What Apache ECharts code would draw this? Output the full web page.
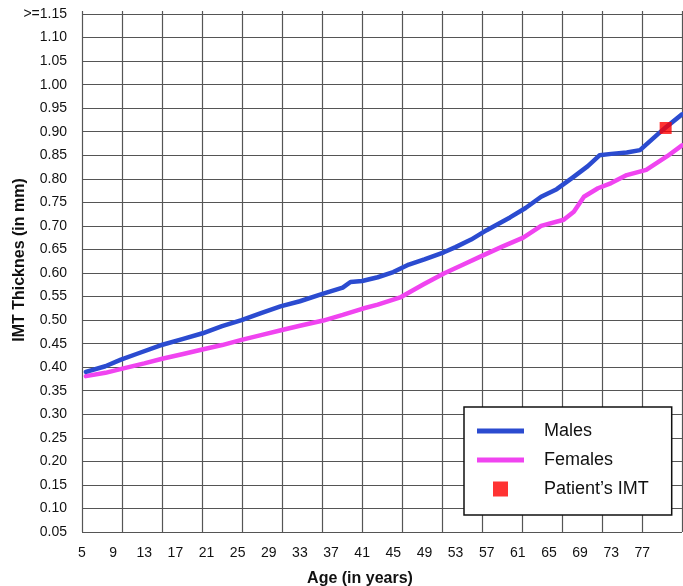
<!DOCTYPE html>
<html>
<head>
<meta charset="utf-8">
<script src="https://cdn.jsdelivr.net/npm/echarts/dist/echarts.min.js"></script>
<style>html,body{margin:0;padding:0;background:#fff}#c{width:683px;height:586px}</style>
</head>
<body>
<div id="c"></div>
<script>
// ---- data ----
const maleAges = [5.5, 8, 10, 12, 15, 18, 20.5, 23, 25.5, 28, 30.5, 33, 36, 38.5, 39.5, 41, 43, 45, 47, 49, 51.5, 53, 55, 57, 60, 62, 64, 66, 68, 70, 71.5, 73, 75, 76.7, 79, 80, 82.1];
const maleIMT  = [0.390, 0.402, 0.416, 0.428, 0.446, 0.460, 0.472, 0.487, 0.500, 0.515, 0.529, 0.540, 0.556, 0.569, 0.581, 0.583, 0.591, 0.602, 0.618, 0.629, 0.644, 0.655, 0.671, 0.691, 0.718, 0.738, 0.762, 0.778, 0.802, 0.827, 0.850, 0.853, 0.856, 0.861, 0.895, 0.909, 0.937];
const femaleAges = [5.5, 8, 10.2, 13, 15.3, 18, 20.6, 23, 25.5, 28, 30.7, 33, 36, 38.5, 41, 43, 44.5, 46, 48.9, 51.5, 54, 56.6, 59, 61.7, 64, 66.9, 68.2, 69.5, 71.3, 73, 75, 77.5, 80.2, 82.1];
const femaleIMT  = [0.381, 0.388, 0.397, 0.408, 0.418, 0.428, 0.438, 0.447, 0.458, 0.468, 0.479, 0.488, 0.499, 0.511, 0.524, 0.533, 0.541, 0.549, 0.576, 0.599, 0.618, 0.638, 0.656, 0.675, 0.700, 0.713, 0.730, 0.762, 0.780, 0.791, 0.808, 0.819, 0.848, 0.871];
const patientAge = [80];
const patientIMT = [0.908];
const xTickLabels = ['5','9','13','17','21','25','29','33','37','41','45','49','53','57','61','65','69','73','77'];
const yTickLabels = ['0.05','0.10','0.15','0.20','0.25','0.30','0.35','0.40','0.45','0.50','0.55','0.60','0.65','0.70','0.75','0.80','0.85','0.90','0.95','1.00','1.05','1.10','>=1.15'];
const seriesNames = ['Males', 'Females', 'Patient\u2019s IMT'];

// ---- chart ----
const zip = (a, b) => a.map((v, i) => [v, b[i]]);
const FONT = 'Liberation Sans';
const gridColor = '#555555';
const chart = echarts.init(document.getElementById('c'));
chart.setOption({
  animation: false,
  grid: { left: 82, right: 1, top: 11, bottom: 54, outerBoundsMode: 'none', containLabel: false },
  xAxis: [{
    type: 'value', min: 5, max: 82.1, interval: 4,
    axisLine: { show: false }, axisTick: { show: false }, splitLine: { show: false },
    axisLabel: { margin: 14, fontSize: 14, color: '#111', fontFamily: FONT,
      formatter: (v, i) => xTickLabels[i] || '' },
    name: 'Age (in years)', nameLocation: 'middle', nameGap: 39, nameMoveOverlap: false,
    nameTextStyle: { fontSize: 16, fontWeight: 'bold', color: '#111', fontFamily: FONT, padding: [0, 44, 0, 0] }
  }, {
    type: 'value', min: 0, max: 15, interval: 1, position: 'top',
    axisLine: { show: false }, axisTick: { show: false }, axisLabel: { show: false },
    splitLine: { show: true, showMinLine: true, showMaxLine: true, lineStyle: { color: gridColor, width: 1.2 } }
  }],
  yAxis: {
    type: 'value', min: 0.05, max: 1.1564, interval: 0.05,
    axisLine: { show: false }, axisTick: { show: false },
    splitLine: { show: true, showMinLine: true, showMaxLine: false, lineStyle: { color: gridColor, width: 1.2 } },
    axisLabel: { margin: 15, fontSize: 14, color: '#111', fontFamily: FONT,
      formatter: (v, i) => yTickLabels[i] || '' },
    name: 'IMT Thicknes (in mm)', nameLocation: 'middle', nameGap: 54, nameMoveOverlap: false,
    nameTextStyle: { fontSize: 16, fontWeight: 'bold', color: '#111', fontFamily: FONT, padding: [0, 0, 0, 23] }
  },
  legend: {
    orient: 'vertical', left: 464, top: 407, padding: [14, 23, 16, 13], itemGap: 9,
    itemWidth: 47, itemHeight: 15, backgroundColor: '#fff', borderColor: '#111', borderWidth: 1.5, borderRadius: 0,
    selectedMode: false, itemStyle: { borderWidth: 0 },
    textStyle: { fontSize: 18, lineHeight: 20, color: '#111', fontFamily: FONT, padding: [0, 0, 0, 15] },
    data: [
      { name: seriesNames[0], icon: 'path://M0,0H47V5H0Z' },
      { name: seriesNames[1], icon: 'path://M0,0H47V5H0Z' },
      { name: seriesNames[2], icon: 'path://M0,0H1V1H0Z' }
    ]
  },
  series: [{
    name: seriesNames[1], type: 'line', xAxisIndex: 0, data: zip(femaleAges, femaleIMT),
    showSymbol: false, symbol: 'none', color: '#f044f0', lineStyle: { width: 4.5, color: '#f044f0', cap: 'round', join: 'round' }, z: 3
  }, {
    name: seriesNames[0], type: 'line', xAxisIndex: 0, data: zip(maleAges, maleIMT),
    showSymbol: false, symbol: 'none', color: '#2b4bd0', lineStyle: { width: 4.5, color: '#2b4bd0', cap: 'round', join: 'round' }, z: 3
  }, {
    name: seriesNames[2], type: 'scatter', xAxisIndex: 0, data: zip(patientAge, patientIMT),
    symbol: 'rect', symbolSize: 12, color: '#ff0000', itemStyle: { color: '#ff0000' }, z: 5
  }]
});
</script>
</body>
</html>
